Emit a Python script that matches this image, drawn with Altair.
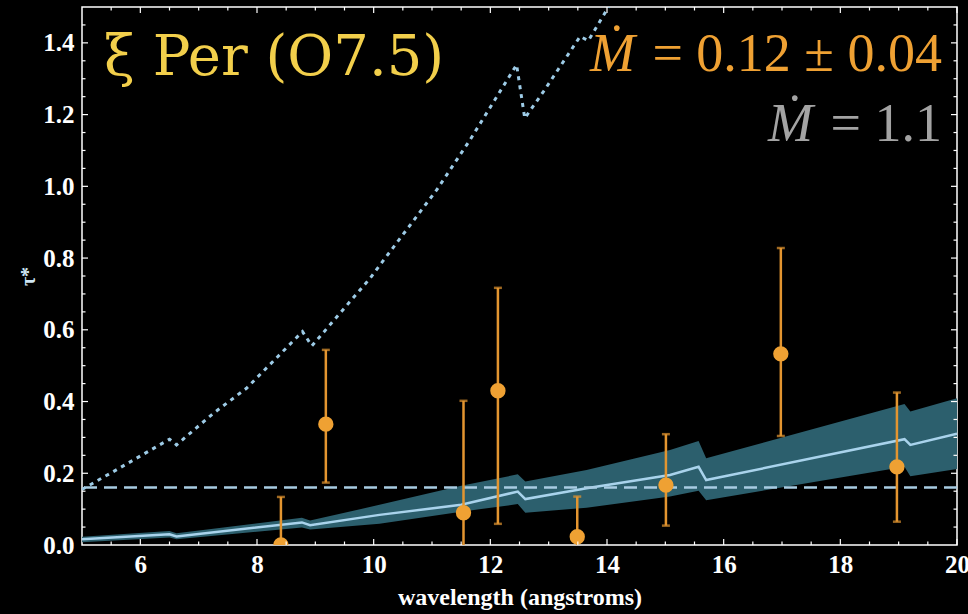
import altair as alt
import pandas as pd

# --- measured optical depths (points with error bars) ---
obs_lam = [8.41, 9.18, 11.54, 12.13, 13.49, 15.01, 16.98, 18.97]
obs_tau = [0.0, 0.337, 0.090, 0.430, 0.023, 0.167, 0.533, 0.218]
obs_lo = [-0.13, 0.174, -0.22, 0.059, -0.09, 0.054, 0.304, 0.065]
obs_hi = [0.134, 0.544, 0.402, 0.717, 0.135, 0.309, 0.828, 0.425]

# --- best-fit model (line) with its uncertainty band ---
mod_lam = [5.0, 6.5, 6.62, 8.77, 8.91, 10.1, 11.5, 12.47, 12.6, 13.65, 15.08, 15.57, 15.7, 19.1, 19.2, 20.0]
mod_mid = [0.016, 0.030, 0.024, 0.063, 0.055, 0.084, 0.112, 0.149, 0.128, 0.158, 0.195, 0.218, 0.181, 0.295, 0.279, 0.310]
mod_lo = [0.008, 0.021, 0.016, 0.049, 0.043, 0.059, 0.093, 0.114, 0.090, 0.104, 0.135, 0.151, 0.125, 0.218, 0.192, 0.212]
mod_hi = [0.023, 0.039, 0.033, 0.076, 0.068, 0.112, 0.165, 0.197, 0.177, 0.209, 0.265, 0.290, 0.242, 0.393, 0.372, 0.409]

# --- model for the higher mass-loss rate (dotted) ---
high_lam = [5.0, 5.53, 6.5, 6.62, 7.25, 7.82, 8.78, 8.94, 9.94, 10.11, 11.08, 11.65, 12.45, 12.59, 12.91, 13.54, 13.68, 14.1]
high_tau = [0.155, 0.204, 0.295, 0.279, 0.367, 0.437, 0.595, 0.555, 0.744, 0.781, 0.990, 1.129, 1.339, 1.190, 1.264, 1.418, 1.406, 1.52]

# horizontal reference level
ref_level = [0.16]

# axis tick positions
x_major = [6, 8, 10, 12, 14, 16, 18, 20]
x_minor = [5.5, 6.5, 7, 7.5, 8.5, 9, 9.5, 10.5, 11, 11.5, 12.5, 13, 13.5, 14.5, 15, 15.5, 16.5, 17, 17.5, 18.5, 19, 19.5]
y_major = [0.0, 0.2, 0.4, 0.6, 0.8, 1.0, 1.2, 1.4]
y_minor = [0.05, 0.1, 0.15, 0.25, 0.3, 0.35, 0.45, 0.5, 0.55, 0.65, 0.7, 0.75, 0.85, 0.9, 0.95, 1.05, 1.1, 1.15, 1.25, 1.3, 1.35, 1.45]

W, H = 875, 538
SERIF = "Liberation Serif"
ORANGE = "#EFA133"
ORANGE_BAR = "#E39530"
YELLOW = "#F2CF4B"
GREY = "#A3A3A3"
TEAL = "#2C5F6D"
LIGHT = "#A9D3EC"

obs = pd.DataFrame({"lam": obs_lam, "tau": obs_tau, "lo": obs_lo, "hi": obs_hi})
caps = pd.DataFrame({"lam": obs_lam + obs_lam, "tau": obs_lo + obs_hi})
model = pd.DataFrame({"lam": mod_lam, "mid": mod_mid, "lo": mod_lo, "hi": mod_hi})
high = pd.DataFrame({"lam": high_lam, "tau": high_tau})

xs = alt.Scale(domain=[5, 20], nice=False, zero=False)
ys = alt.Scale(domain=[0, 1.5], nice=False)

x_axis = alt.Axis(values=x_major, format="d", ticks=False, domain=False, grid=False,
                  labelFont=SERIF, labelFontSize=25, labelFontWeight="bold", labelColor="white",
                  labelPadding=7, labelFlush=False,
                  title="wavelength (angstroms)", titleFont=SERIF, titleFontSize=24,
                  titleFontWeight="bold", titleColor="white", titlePadding=8)
y_axis = alt.Axis(values=y_major, format=".1f", ticks=False, domain=False, grid=False,
                  labelFont=SERIF, labelFontSize=25, labelFontWeight="bold", labelColor="white",
                  labelPadding=8, labelFlush=False,
                  title="τ*", titleFont=SERIF, titleFontSize=20, titleFontWeight="bold",
                  titleColor="#CFE6F5", titlePadding=4)

band = alt.Chart(model).mark_area(color=TEAL, opacity=1, clip=True).encode(
    x=alt.X("lam:Q", scale=xs, axis=x_axis),
    y=alt.Y("lo:Q", scale=ys, axis=y_axis),
    y2="hi:Q",
)
mid_line = alt.Chart(model).mark_line(color=LIGHT, strokeWidth=2.5, clip=True).encode(
    x=alt.X("lam:Q", scale=xs), y=alt.Y("mid:Q", scale=ys)
)
ref_line = alt.Chart(pd.DataFrame({"tau": ref_level})).mark_rule(
    color="#A8CCE2", strokeWidth=2.5, strokeDash=[13, 7]
).encode(y=alt.Y("tau:Q", scale=ys))
high_line = alt.Chart(high).mark_line(
    color="#9DCBE6", strokeWidth=3, strokeDash=[4, 5], clip=True
).encode(x=alt.X("lam:Q", scale=xs), y=alt.Y("tau:Q", scale=ys))

err = alt.Chart(obs).mark_rule(color=ORANGE_BAR, strokeWidth=2.5, clip=True).encode(
    x=alt.X("lam:Q", scale=xs), y=alt.Y("lo:Q", scale=ys), y2="hi:Q"
)
cap = alt.Chart(caps).mark_tick(color=ORANGE_BAR, orient="horizontal", size=8, thickness=2.5,
                                clip=True).encode(
    x=alt.X("lam:Q", scale=xs), y=alt.Y("tau:Q", scale=ys)
)
pts = alt.Chart(obs).mark_circle(color=ORANGE, size=235, opacity=1, clip=True).encode(
    x=alt.X("lam:Q", scale=xs), y=alt.Y("tau:Q", scale=ys)
)


def ticks(values, channel, length, side):
    df = pd.DataFrame({"v": values})
    if channel == "x":
        y0, y1 = (H, H - length) if side == "bottom" else (0, length)
        return alt.Chart(df).mark_rule(color="white", strokeWidth=1.2).encode(
            x=alt.X("v:Q", scale=xs), y=alt.value(y0), y2=alt.value(y1))
    x0, x1 = (0, length) if side == "left" else (W, W - length)
    return alt.Chart(df).mark_rule(color="white", strokeWidth=1.2).encode(
        y=alt.Y("v:Q", scale=ys), x=alt.value(x0), x2=alt.value(x1))


tick_layers = []
for side in ("bottom", "top"):
    tick_layers.append(ticks(x_major, "x", 6, side))
    tick_layers.append(ticks(x_minor, "x", 3.5, side))
for side in ("left", "right"):
    tick_layers.append(ticks(y_major[1:], "y", 6, side))
    tick_layers.append(ticks(y_minor, "y", 3.5, side))


def label(text, x, y, color, size, style="normal", align="left", font=SERIF):
    return alt.Chart(pd.DataFrame({"t": [text]})).mark_text(
        font=font, fontSize=size, fontStyle=style, color=color, align=align, baseline="alphabetic"
    ).encode(text="t:N", x=alt.value(x), y=alt.value(y))


texts = [
    label("ξ Per (O7.5)", 22, 68, YELLOW, 56, font="DejaVu Serif"),
    label("Ṁ", 508, 64, ORANGE, 54, style="italic"),
    label("= 0.12 ± 0.04", 860, 64, ORANGE, 54, align="right"),
    label("Ṁ", 686, 134, GREY, 54, style="italic"),
    label("= 1.1", 860, 134, GREY, 54, align="right"),
]

chart = alt.layer(band, mid_line, ref_line, high_line, err, cap, pts, *tick_layers, *texts).properties(
    width=W, height=H,
    autosize=alt.AutoSizeParams(type="none"),
    padding={"left": 82, "top": 7, "right": 11, "bottom": 69},
    background="black",
).configure_view(stroke="white", strokeWidth=1.5)

chart.save("out.html", embed_options={"renderer": "svg", "actions": False})
